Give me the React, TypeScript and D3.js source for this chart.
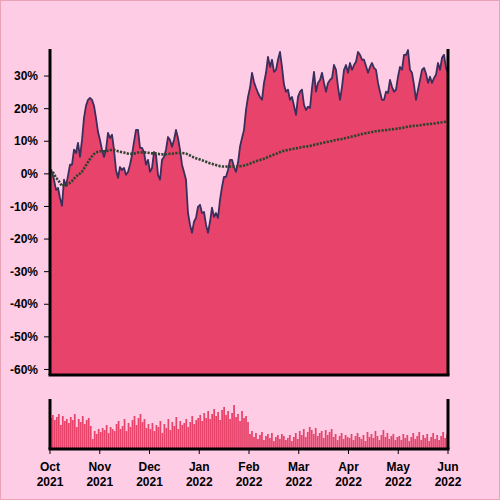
import React from "react";
import * as d3 from "d3";

// Cumulative return series (fraction), one value per sample, Oct 2021 -> Jun 2022
const returns: number[] = [
  1.2, 0.6, -1.8, -4.9, -4.3, -7.4, -9.8, -1.8, -3.7, -0.6, 2.8, 2.8, 7.4, 6.4, 9.5, 5.2, 10.4, 17.2, 20.9, 22.7,
  23.3, 22.7, 20.9, 17.2, 12.9, 10.4, 7.4, 5.2, 7.4, 12.6, 11.0, 12.0, 7.4, 1.2, -1.2, 2.1, 1.2, 1.8, -0.3, 0.6,
  2.8, 5.8, 9.8, 13.5, 13.5, 8.0, 8.0, 6.7, 2.8, 4.3, 0.6, 1.8, 6.7, 5.8, -0.3, -1.8, 4.3, 5.2, 7.4, 11.3,
  10.4, 8.3, 10.4, 13.5, 11.0, 7.4, 2.8, 0.6, -1.8, -12.0, -15.6, -18.1, -14.7, -13.5, -10.1, -9.5, -12.0, -11.7, -15.6, -18.1,
  -14.7, -10.4, -13.2, -12.0, -13.5, -8.0, -4.0, -0.9, -0.9, 1.2, 4.3, 4.3, 2.1, 0.6, 3.4, 8.3, 11.0, 13.5, 19.6, 23.6,
  26.4, 31.0, 28.2, 26.4, 24.8, 23.6, 22.7, 27.9, 31.0, 35.9, 32.8, 35.0, 31.3, 31.9, 35.0, 37.4, 32.8, 27.3, 25.2, 25.8,
  22.7, 23.6, 20.9, 18.1, 23.6, 25.2, 25.8, 21.2, 19.6, 20.6, 20.2, 26.4, 31.3, 25.2, 27.9, 28.8, 31.0, 27.9, 25.2, 27.9,
  28.8, 29.4, 33.4, 31.9, 26.7, 22.7, 26.7, 31.9, 33.4, 31.0, 34.0, 31.9, 33.4, 34.4, 37.4, 36.5, 35.0, 35.0, 33.1, 31.0,
  32.8, 34.0, 32.5, 31.9, 27.9, 25.2, 22.7, 22.7, 25.2, 24.8, 28.8, 26.7, 25.2, 25.8, 29.8, 32.8, 31.9, 36.5, 36.5, 38.0,
  31.9, 31.0, 27.3, 22.7, 25.8, 28.8, 31.9, 32.5, 30.7, 27.9, 29.8, 27.9, 29.4, 30.4, 34.0, 31.9, 35.6, 36.5, 32.5, 31.0,
].map((v) => v / 100);

// Volume (arbitrary units)
const volumes: number[] = [
  31, 34, 29, 32, 35, 24, 33, 28, 30, 26, 32, 29, 35, 22, 30, 27, 33, 25, 29, 31, 23, 10, 18, 15, 20,
  17, 21, 19, 24, 16, 22, 20, 18, 25, 28, 20, 23, 30, 18, 26, 22, 29, 33, 24, 31, 35, 27, 30, 21, 25,
  20, 26, 18, 24, 22, 28, 16, 25, 21, 30, 19, 27, 23, 32, 20, 28, 24, 26, 30, 22, 27, 33, 25, 29, 31,
  34, 28, 36, 31, 38, 30, 35, 40, 33, 37, 29, 39, 42, 34, 38, 30, 36, 44, 32, 35, 28, 38, 31, 33, 27,
  15, 18, 12, 16, 10, 14, 17, 9, 13, 15, 11, 16, 8, 12, 14, 10, 15, 13, 9, 11, 14, 8, 12, 16, 10,
  18, 14, 20, 12, 17, 22, 19, 15, 21, 13, 16, 18, 11, 19, 14, 17, 20, 12, 15, 9, 13, 16, 10, 14, 12,
  11, 15, 9, 13, 16, 12, 10, 14, 8, 17, 12, 15, 11, 18, 13, 9, 14, 19, 12, 16, 10, 13, 15, 9, 12,
  13, 9, 15, 11, 14, 8, 12, 16, 10, 13, 17, 9, 14, 11, 15, 8, 12, 16, 10, 14, 9, 13, 17, 11, 15,
];

const monthLabels: string[] = ["Oct", "Nov", "Dec", "Jan", "Feb", "Mar", "Apr", "May", "Jun"];
const yearLabels: string[] = ["2021", "2021", "2021", "2022", "2022", "2022", "2022", "2022", "2022"];
const yTicks: number[] = [-0.6, -0.5, -0.4, -0.3, -0.2, -0.1, 0, 0.1, 0.2, 0.3];

const BG = "#ffcce6";
const FILL = "#e8436a";
const LINE = "#3a2e5c";
const AVG = "#2f432f";
const FONT = "'Liberation Sans', Arial, sans-serif";

export default function App() {
  const left = 50;
  const right = 448;
  const top = 49;
  const bottom = 375;
  const vTop = 399;
  const vBottom = 449;

  const n = returns.length;
  const x = d3.scaleLinear().domain([0, n - 1]).range([left, right]);
  const xm = d3.scaleLinear().domain([0, monthLabels.length - 1]).range([left, right]);
  const y = d3.scaleLinear().domain([-0.617, 0.383]).range([bottom, top]);
  const yv = d3.scaleLinear().domain([0, 50]).range([vBottom, vTop]);

  const cum = Array.from(d3.cumsum(returns));
  const avg = cum.map((s, i) => s / (i + 1));

  const area = d3
    .area<number>()
    .x((_, i) => x(i))
    .y0(bottom)
    .y1((d) => y(d));
  const line = d3
    .line<number>()
    .x((_, i) => x(i))
    .y((d) => y(d));

  const fmt = d3.format(".0%");
  const xv = d3.scaleBand<number>().domain(d3.range(volumes.length)).range([left, right]).paddingInner(0.12);

  return (
    <svg
      width={500}
      height={500}
      style={{ position: "fixed", left: 0, top: 0 }}
      fontFamily={FONT}
    >
      <rect x={0.5} y={0.5} width={499} height={499} fill={BG} stroke="#e9a3b8" strokeWidth={1} />

      {/* main chart */}
      <path d={area(returns) || ""} fill={FILL} />
      <path d={line(returns) || ""} fill="none" stroke={LINE} strokeWidth={1.8} strokeLinejoin="round" />
      <path
        d={line(avg) || ""}
        fill="none"
        stroke={AVG}
        strokeWidth={2.6}
        strokeDasharray="2.2,1.3"
      />

      {yTicks.map((t) => (
        <g key={t} transform={`translate(0,${y(t)})`}>
          <line x1={left - 6} x2={left} stroke="#000" strokeWidth={1} />
          <text x={left - 12} dy="0.35em" textAnchor="end" fontSize={12} fontWeight="bold" fill="#000">
            {fmt(t).replace("−", "-")}
          </text>
        </g>
      ))}
      <line x1={left} x2={left} y1={top} y2={bottom} stroke="#000" strokeWidth={3} />
      <line x1={right} x2={right} y1={top} y2={bottom} stroke="#000" strokeWidth={3} />
      <line x1={left - 1.5} x2={right + 1.5} y1={bottom} y2={bottom} stroke="#000" strokeWidth={3} />

      {/* volume chart */}
      {volumes.map((v, i) => (
        <rect key={i} x={xv(i)} y={yv(v)} width={xv.bandwidth()} height={vBottom - yv(v)} fill={FILL} />
      ))}
      <line x1={left} x2={left} y1={vTop} y2={vBottom} stroke="#000" strokeWidth={3} />
      <line x1={right} x2={right} y1={vTop} y2={vBottom} stroke="#000" strokeWidth={3} />
      <line x1={left - 1.5} x2={right + 1.5} y1={vBottom} y2={vBottom} stroke="#000" strokeWidth={3} />

      {monthLabels.map((m, i) => (
        <g key={m} transform={`translate(${xm(i)},0)`}>
          <line y1={vBottom} y2={vBottom + 5} stroke="#000" strokeWidth={1} />
          <text y={471} textAnchor="middle" fontSize={12} fontWeight="bold" fill="#000">
            {m}
          </text>
          <text y={486} textAnchor="middle" fontSize={12} fontWeight="bold" fill="#000">
            {yearLabels[i]}
          </text>
        </g>
      ))}
    </svg>
  );
}
